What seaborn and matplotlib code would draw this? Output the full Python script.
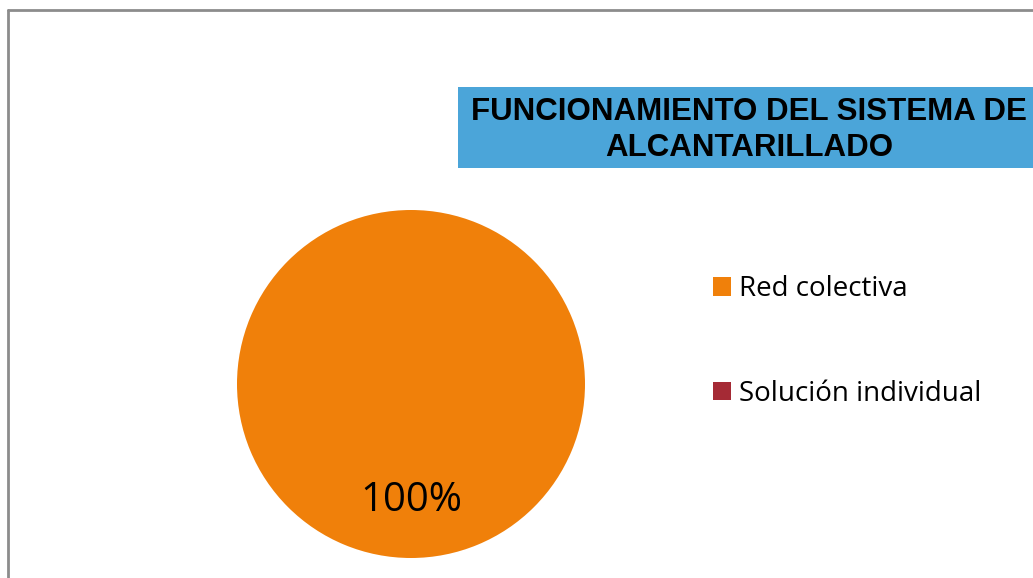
import matplotlib
matplotlib.use("Agg")
import matplotlib.pyplot as plt
from matplotlib.patches import Rectangle
from matplotlib.lines import Line2D
import seaborn as sns

# data
categories = ["Red colectiva", "Solución individual"]
values = [100, 0]
colors = ["#f0800a", "#a52a35"]
title = "FUNCIONAMIENTO DEL SISTEMA DE\nALCANTARILLADO"

sns.set_theme(style="white")
plt.rcParams['font.family'] = ['Open Sans', 'DejaVu Sans']

W, H = 1033, 578
fig = plt.figure(figsize=(W / 100, H / 100), dpi=100)
fig.patch.set_facecolor("white")

# pie axes: center (411, 384), radius 174 px
cx, cy, r = 411, 384, 174
ax = fig.add_axes([(cx - r) / W, (H - cy - r) / H, 2 * r / W, 2 * r / H])


def pct_label(p):
    return f"{p:.0f}%" if p > 0 else ""


wedges, texts, autotexts = ax.pie(values, colors=colors, startangle=90,
                                  counterclock=False, autopct=pct_label,
                                  pctdistance=0.67,
                                  wedgeprops=dict(linewidth=0, edgecolor="none"),
                                  textprops=dict(fontsize=29, color="black"))
ax.set_xlim(-1, 1)
ax.set_ylim(-1, 1)
ax.set_aspect("equal")
ax.axis("off")

# chart frame (only left and top edges visible)
fig.add_artist(Line2D([8 / W, 8 / W], [0, 1 - 10 / H], color="#8c8c8c", lw=2))
fig.add_artist(Line2D([8 / W, 1], [1 - 10 / H, 1 - 10 / H], color="#8c8c8c", lw=2))

# title box
fig.add_artist(Rectangle((458 / W, 1 - 168 / H), (W - 458) / W, 81 / H,
                         transform=fig.transFigure, facecolor="#4ba5d9",
                         edgecolor="none"))
fig.text(749 / W, 1 - 130 / H, title, ha="center", va="center", color="black",
         fontsize=22.5, fontweight="bold", family=['Liberation Sans', 'DejaVu Sans'],
         linespacing=1.22)

# legend
handles = [Rectangle((0, 0), 1, 1, facecolor=c, edgecolor="none") for c in colors]
leg = fig.legend(handles, categories, loc="upper left",
                 bbox_to_anchor=(688 / W, 1 - 250 / H), frameon=False,
                 fontsize=20, handlelength=0.65, handleheight=0.65, handletextpad=0.3,
                 labelspacing=2.77)
for t in leg.get_texts():
    t.set_color("black")

fig.savefig("out.png", dpi=100, facecolor="white")
